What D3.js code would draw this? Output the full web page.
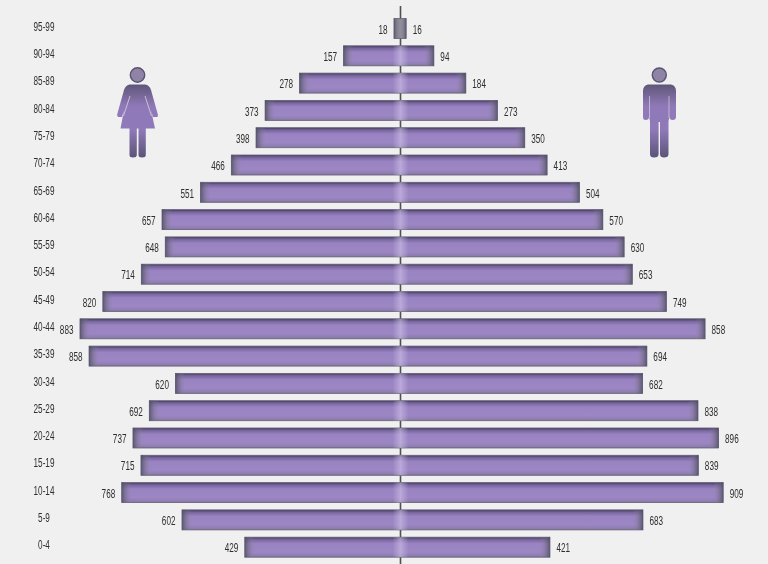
<!DOCTYPE html>
<html>
<head>
<meta charset="utf-8">
<script src="https://cdn.jsdelivr.net/npm/d3@7"></script>
<style>
  html, body { margin: 0; padding: 0; background: #f0f0f0; }
  svg { display: block; }
  text { font-family: 'Liberation Sans', sans-serif; fill: #2e2e2e; }
</style>
</head>
<body>
<div id="chart"></div>
<script>
const width = 768
const height = 564

const ageGroups = ['95-99', '90-94', '85-89', '80-84', '75-79', '70-74', '65-69', '60-64', '55-59', '50-54',
  '45-49', '40-44', '35-39', '30-34', '25-29', '20-24', '15-19', '10-14', '5-9', '0-4']
const women = [18, 157, 278, 373, 398, 466, 551, 657, 648, 714, 820, 883, 858, 620, 692, 737, 715, 768, 602, 429]
const men = [16, 94, 184, 273, 350, 413, 504, 570, 630, 653, 749, 858, 694, 682, 838, 896, 839, 909, 683, 421]

const center = 400.5

const svg = d3
  .select('#chart')
  .append('svg')
  .attr('width', width)
  .attr('height', height)

const defs = svg.append('defs')

// the picture is soft, so the shapes get a small blur
function addBlur(id, amount) {
  defs
    .append('filter')
    .attr('id', id)
    .attr('x', '-5%')
    .attr('y', '-20%')
    .attr('width', '110%')
    .attr('height', '140%')
    .append('feGaussianBlur')
    .attr('stdDeviation', amount)
}
addBlur('soft', 0.55)
addBlur('softText', 0.3)

function addGradient(id, stops, horizontal) {
  const g = defs
    .append('linearGradient')
    .attr('id', id)
    .attr('x1', 0)
    .attr('y1', 0)
    .attr('x2', horizontal ? 1 : 0)
    .attr('y2', horizontal ? 0 : 1)
  stops.forEach(s => {
    g.append('stop')
      .attr('offset', s[0])
      .attr('stop-color', s[1])
      .attr('stop-opacity', s[2] === undefined ? 1 : s[2])
  })
}

addGradient('barFill', [
  [0, '#453a5e'],
  [0.12, '#76659c'],
  [0.32, '#9a83c2'],
  [0.75, '#9c86c3'],
  [0.92, '#8f7db2'],
  [1, '#7d7492']
])
addGradient('iconFill', [
  [0, '#5f5678'],
  [0.3, '#9079b8'],
  [0.62, '#8f79b8'],
  [1, '#5c5478']
])
addGradient('midGlow', [
  [0, '#d8cdf0', 0],
  [0.5, '#d8cdf0', 0.5],
  [1, '#d8cdf0', 0]
], true)
addGradient('endLeft', [
  [0, '#4d4c60', 0.8],
  [1, '#8f8a9e', 0]
], true)
addGradient('endRight', [
  [0, '#8f8a9e', 0],
  [1, '#4d4c60', 0.8]
], true)

const yPositionScale = d3
  .scaleBand()
  .domain(ageGroups)
  .range([14.85, 560.85])
  .paddingInner(0.267)
  .paddingOuter(0.134)

const xLeft = d3.scaleLinear().domain([0, 1000]).range([center, center - 363])
const xRight = d3.scaleLinear().domain([0, 1000]).range([center, center + 355])

// no condensed font here, so the lettering is squeezed sideways
function squeeze(x, y) {
  return 'translate(' + x + ',' + y + ') scale(0.68,1)'
}

// centre line sits behind the bars
svg
  .append('line')
  .attr('x1', center)
  .attr('x2', center)
  .attr('y1', 6)
  .attr('y2', height)
  .attr('stroke', '#4f4f55')
  .attr('stroke-width', 1.6)

const rows = ageGroups.map((age, i) => ({ age: age, women: women[i], men: men[i] }))

const bars = svg.append('g').attr('filter', 'url(#soft)')

const row = bars
  .selectAll('.row')
  .data(rows)
  .enter()
  .append('g')
  .attr('class', 'row')
  .attr('transform', d => 'translate(0,' + yPositionScale(d.age) + ')')

row
  .append('rect')
  .attr('x', d => xLeft(d.women))
  .attr('width', d => xRight(d.men) - xLeft(d.women))
  .attr('height', yPositionScale.bandwidth())
  .attr('fill', d => (d.women < 50 ? '#8f8d99' : 'url(#barFill)'))
  .attr('stroke', '#66627a')
  .attr('stroke-width', 0.8)

// grey fade at both outer ends
row
  .append('rect')
  .attr('x', d => xLeft(d.women))
  .attr('width', d => Math.min(10, xLeft(0) - xLeft(d.women)))
  .attr('height', yPositionScale.bandwidth())
  .attr('fill', 'url(#endLeft)')

row
  .append('rect')
  .attr('x', d => xRight(d.men) - Math.min(10, xRight(d.men) - xRight(0)))
  .attr('width', d => Math.min(10, xRight(d.men) - xRight(0)))
  .attr('height', yPositionScale.bandwidth())
  .attr('fill', 'url(#endRight)')

// light stripe down the middle
row
  .filter(d => d.women > 50)
  .append('rect')
  .attr('x', center - 8)
  .attr('width', 16)
  .attr('height', yPositionScale.bandwidth())
  .attr('fill', 'url(#midGlow)')

const labels = svg.append('g').attr('filter', 'url(#softText)')

labels
  .selectAll('.age-label')
  .data(rows)
  .enter()
  .append('text')
  .attr('class', 'age-label')
  .attr('transform', d => squeeze(44, yPositionScale(d.age) + yPositionScale.bandwidth() / 2 - 2))
  .attr('dy', '0.35em')
  .attr('text-anchor', 'middle')
  .attr('font-size', 12)
  .text(d => d.age)

labels
  .selectAll('.women-label')
  .data(rows)
  .enter()
  .append('text')
  .attr('class', 'women-label')
  .attr('transform', d => squeeze(xLeft(d.women) - 6.5, yPositionScale(d.age) + yPositionScale.bandwidth() / 2 + 1))
  .attr('dy', '0.35em')
  .attr('text-anchor', 'end')
  .attr('font-size', 12)
  .text(d => d.women)

labels
  .selectAll('.men-label')
  .data(rows)
  .enter()
  .append('text')
  .attr('class', 'men-label')
  .attr('transform', d => squeeze(xRight(d.men) + 6.5, yPositionScale(d.age) + yPositionScale.bandwidth() / 2 + 1))
  .attr('dy', '0.35em')
  .attr('font-size', 12)
  .text(d => d.men)

// woman icon
const woman = svg.append('g').attr('filter', 'url(#soft)')
woman
  .append('circle')
  .attr('cx', 137.5)
  .attr('cy', 75)
  .attr('r', 7.2)
  .attr('fill', '#8f84a6')
  .attr('stroke', '#5a5272')
  .attr('stroke-width', 1.4)
woman
  .append('path')
  .attr('d', 'M130 84.5 Q125.5 85 124 90 L117 115 L118 117 L122 117 L124 110 L120.5 128.5 L129.5 128.5 L129.5 155 Q129.5 157.5 133 157.5 Q136.8 157.5 136.8 155 L136.8 128.5 L138.5 128.5 L138.5 155 Q138.5 157.5 142 157.5 Q145.8 157.5 145.8 155 L145.8 128.5 L155 128.5 L151 110 L153 117 L157.5 117 L158 115 L151 90 Q149.5 85 145 84.5 Z')
  .attr('fill', 'url(#iconFill)')
woman
  .append('path')
  .attr('d', 'M130 96 L123.5 116 M145 96 L151.5 116')
  .attr('stroke', '#e4e0ea')
  .attr('stroke-width', 0.7)
  .attr('fill', 'none')

// man icon
const man = svg.append('g').attr('filter', 'url(#soft)')
man
  .append('circle')
  .attr('cx', 659.3)
  .attr('cy', 75)
  .attr('r', 7)
  .attr('fill', '#8f84a6')
  .attr('stroke', '#5a5272')
  .attr('stroke-width', 1.4)
man
  .append('path')
  .attr('d', 'M648 84.5 Q643 85.5 643 91 L643 117 Q643 120 645.5 120 Q649 120 649 117 L650 121 L650 154 Q650 157.5 654 157.5 Q658.6 157.5 658.6 154 L658.6 122 L660 122 L660 154 Q660 157.5 664 157.5 Q668.5 157.5 668.5 154 L668.5 121 L669.5 117 Q669.5 120 672.5 120 Q676 120 676 117 L676 91 Q676 85.5 671 84.5 Z')
  .attr('fill', 'url(#iconFill)')
man
  .append('path')
  .attr('d', 'M649.5 96 L649.5 118 M669 96 L669 118')
  .attr('stroke', '#e4e0ea')
  .attr('stroke-width', 0.6)
  .attr('fill', 'none')
</script>
</body>
</html>
